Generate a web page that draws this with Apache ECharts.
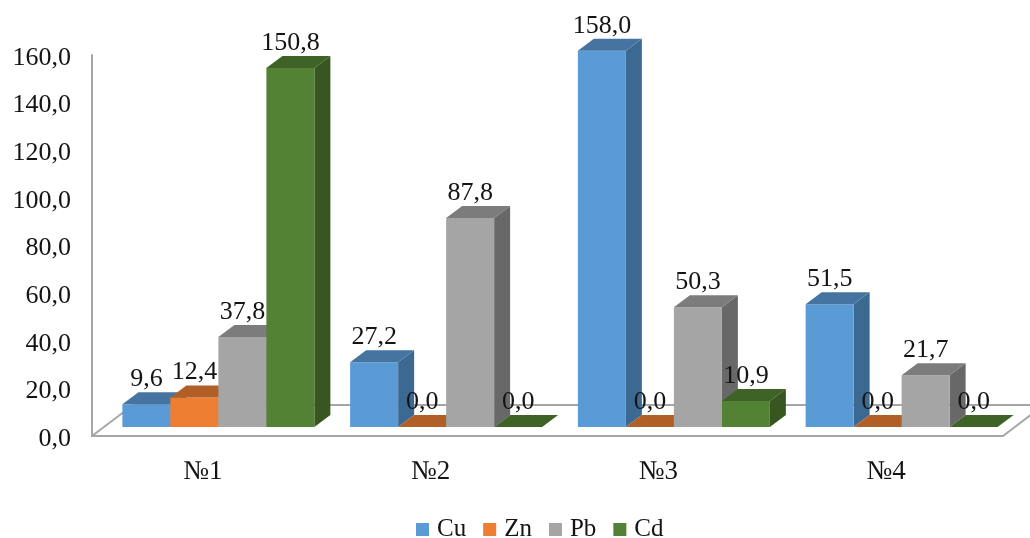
<!DOCTYPE html>
<html>
<head>
<meta charset="utf-8">
<style>html,body{margin:0;padding:0;background:#fff}#chart{width:1030px;height:538px}</style>
<script src="https://cdn.jsdelivr.net/npm/echarts@6/dist/echarts.min.js"></script>
</head>
<body>
<div id="chart"></div>
<script>
// Metal concentrations at four sites, drawn as pseudo-3D columns.
const categories = ['№1', '№2', '№3', '№4'];
const cu = [9.6, 27.2, 158.0, 51.5];
const zn = [12.4, 0.0, 0.0, 0.0];
const pb = [37.8, 87.8, 50.3, 21.7];
const cd = [150.8, 0.0, 10.9, 0.0];

const FONT = '"Liberation Serif", "Times New Roman", serif';
const WALL = '#a6a6a6';
const INK = '#141414';
const DEPTH_X = 16, DEPTH_Y = 12;   // column depth in pixels
const LIFT = 9;                     // columns stand this far behind the front edge of the floor
const BAR_W = 48;
const GROUP_SHIFT = 12.5;           // columns sit right of the band centre because of the depth

const palette = {
  Cu: { front: '#5b9bd5', top: '#44749f', side: '#3c6991' },
  Zn: { front: '#ed7d31', top: '#b15f26', side: '#a85a22' },
  Pb: { front: '#a5a5a5', top: '#7c7c7c', side: '#686868' },
  Cd: { front: '#548235', top: '#3f6226', side: '#385620' }
};

const fmt = v => v.toFixed(1).replace('.', ',');
const poly = (points, fill) => ({ type: 'polygon', shape: { points }, style: { fill, stroke: null } });

function columnRenderer(name, index) {
  const c = palette[name];
  return function (params, api) {
    const cat = api.value(0), val = api.value(1);
    const base = api.coord([cat, 0]);
    const head = api.coord([cat, val]);
    const x0 = base[0] + GROUP_SHIFT + (index - 2) * BAR_W;
    const x1 = x0 + BAR_W;
    const yb = base[1] - LIFT, yt = head[1] - LIFT;
    const children = [];
    if (val > 0) {
      children.push(poly([[x1, yb], [x1 + DEPTH_X, yb - DEPTH_Y], [x1 + DEPTH_X, yt - DEPTH_Y], [x1, yt]], c.side));
      children.push(poly([[x0, yb], [x1, yb], [x1, yt], [x0, yt]], c.front));
    }
    children.push(poly([[x0, yt], [x1, yt], [x1 + DEPTH_X, yt - DEPTH_Y], [x0 + DEPTH_X, yt - DEPTH_Y]], c.top));
    return { type: 'group', children };
  };
}

// Value captions go in their own pass so no column can paint over them.
function captionRenderer(index) {
  return function (params, api) {
    const cat = api.value(0), val = api.value(1);
    const head = api.coord([cat, val]);
    const cx = head[0] + GROUP_SHIFT + (index - 2) * BAR_W + BAR_W / 2;
    return {
      type: 'text',
      style: {
        x: cx, y: head[1] - LIFT - 25, text: fmt(val),
        font: '26px ' + FONT, fill: INK, align: 'center', verticalAlign: 'middle'
      }
    };
  };
}

// Floor outline and the back edge of the wall.
function floorRenderer(params, api) {
  const band = api.size([1, 0])[0];
  const first = api.coord([0, 0]);
  const bl = [first[0] - band / 2, first[1]];
  const br = [first[0] + band * (categories.length - 0.5), first[1]];
  const dx = 41, dy = 31;
  const back = bl[1] - dy;
  const line = (a, b) => ({
    type: 'line', shape: { x1: a[0], y1: a[1], x2: b[0], y2: b[1] },
    style: { stroke: WALL, lineWidth: 2 }
  });
  return {
    type: 'group',
    children: [
      line([bl[0], bl[1]], [bl[0] + dx, back]),
      line([bl[0] + dx, back], [br[0] + dx, back]),
      line([br[0], br[1]], [br[0] + dx, back])
    ]
  };
}

const names = ['Cu', 'Zn', 'Pb', 'Cd'];
const values = [cu, zn, pb, cd];

const series = [{
  type: 'custom', name: 'floor', silent: true, clip: false, z: 1,
  renderItem: floorRenderer, data: [[0, 0]], encode: { x: 0, y: 1 }
}];
names.forEach((name, i) => {
  series.push({
    type: 'custom', name, clip: false, z: 2 + i,
    itemStyle: { color: palette[name].front },
    renderItem: columnRenderer(name, i),
    encode: { x: 0, y: 1 },
    data: values[i].map((v, k) => [k, v])
  });
});
names.forEach((name, i) => {
  series.push({
    type: 'custom', name: name + ' caption', silent: true, clip: false, z: 10,
    renderItem: captionRenderer(i),
    encode: { x: 0, y: 1 },
    data: values[i].map((v, k) => [k, v])
  });
});

const chart = echarts.init(document.getElementById('chart'), null, { renderer: 'canvas' });
chart.setOption({
  animation: false,
  backgroundColor: '#fff',
  grid: { left: 92, top: 55, width: 911, height: 381, containLabel: false },
  legend: {
    data: names, bottom: -9, left: 411, icon: 'rect',
    itemWidth: 13, itemHeight: 13, itemGap: 17,
    textStyle: { fontFamily: FONT, fontSize: 25, color: INK, padding: [0, 0, 0, 3] }
  },
  xAxis: {
    type: 'category', data: categories,
    splitLine: { show: false },
    axisTick: { show: false },
    axisLine: { show: true, lineStyle: { color: WALL, width: 2 } },
    axisLabel: {
      margin: 22, color: INK,
      formatter: v => '{c|' + v + '}',
      rich: { c: { fontFamily: FONT, fontSize: 27, color: INK, padding: [0, 6, 0, 0] } }
    }
  },
  yAxis: {
    type: 'value', min: 0, max: 160, interval: 20,
    splitLine: { show: false },
    axisTick: { show: false },
    axisLine: { show: true, onZero: false, lineStyle: { color: WALL, width: 2 } },
    axisLabel: {
      margin: 21, color: INK,
      formatter: v => '{t|' + fmt(v) + '}',
      rich: { t: { fontFamily: FONT, fontSize: 26, color: INK, padding: [6, 0, 0, 0] } }
    }
  },
  series
});
</script>
</body>
</html>
